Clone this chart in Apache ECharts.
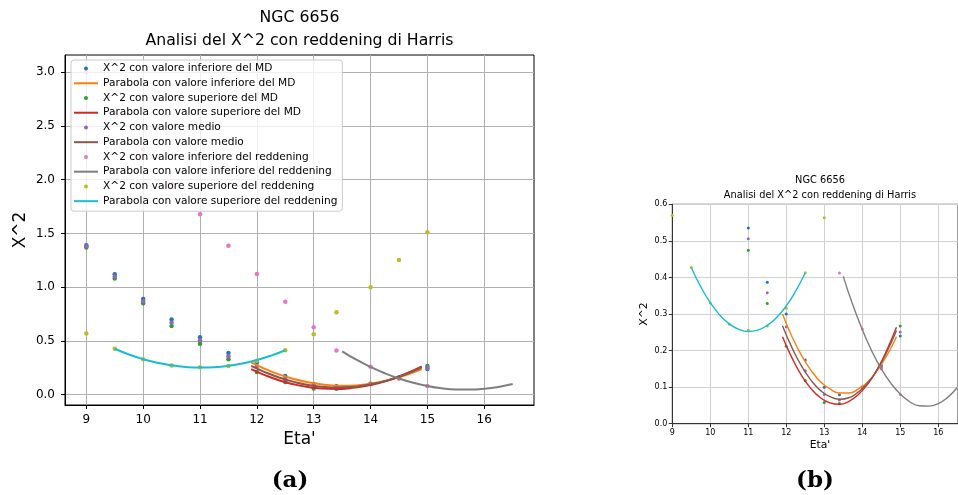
<!DOCTYPE html>
<html><head><meta charset="utf-8">
<script src="https://cdn.jsdelivr.net/npm/echarts@6/dist/echarts.min.js"></script>
<style>html,body{margin:0;padding:0;background:#fff}#c{width:958px;height:495px}</style>
</head><body><div id="c"></div>
<script>
// ---- data ----
const etaPoints = [9, 9.5, 10, 10.5, 11, 11.5, 12, 12.5, 13, 13.4, 14, 14.5, 15];
const chiInfMD  = [1.39, 1.12, 0.89, 0.70, 0.535, 0.387, 0.300, 0.174, 0.100, 0.079, 0.101, 0.160, 0.240];
const chiSupMD  = [1.37, 1.08, 0.85, 0.64, 0.474, 0.329, 0.212, 0.118, 0.058, 0.055, 0.100, 0.152, 0.267];
const chiMedio  = [1.38, 1.10, 0.87, 0.67, 0.506, 0.358, 0.265, 0.145, 0.080, 0.065, 0.100, 0.156, 0.251];
const chiInfRed = [3.00, 2.62, 2.28, 1.96, 1.678, 1.386, 1.123, 0.865, 0.627, 0.412, 0.259, 0.150, 0.080];
const chiSupRed = [0.570, 0.427, 0.330, 0.272, 0.256, 0.267, 0.316, 0.413, 0.563, 0.766, 0.999, 1.253, 1.51];

const parabXMD    = [11.9, 12.15, 12.4, 12.65, 12.9, 13.15, 13.4, 13.65, 13.9, 14.15, 14.4, 14.65, 14.9];
const parabInfMD  = [0.300, 0.238, 0.187, 0.146, 0.115, 0.095, 0.084, 0.084, 0.095, 0.115, 0.146, 0.187, 0.238];
const parabSupMD  = [0.238, 0.180, 0.132, 0.096, 0.071, 0.057, 0.053, 0.061, 0.080, 0.109, 0.150, 0.202, 0.264];
const parabMedio  = [0.268, 0.208, 0.158, 0.119, 0.091, 0.074, 0.067, 0.071, 0.087, 0.112, 0.149, 0.197, 0.255];
const parabXInfRed = [13.5, 13.75, 14, 14.25, 14.5, 14.75, 15, 15.25, 15.5, 15.75, 16, 16.25, 16.5];
const parabInfRed  = [0.403, 0.325, 0.258, 0.199, 0.150, 0.111, 0.081, 0.060, 0.049, 0.048, 0.055, 0.072, 0.099];
const parabXSupRed = [9.5, 9.75, 10, 10.25, 10.5, 10.75, 11, 11.25, 11.5, 11.75, 12, 12.25, 12.5];
const parabSupRed  = [0.427, 0.374, 0.331, 0.297, 0.273, 0.258, 0.252, 0.256, 0.269, 0.291, 0.322, 0.363, 0.413];

const xTicksA = [9, 10, 11, 12, 13, 14, 15, 16];
const yTicksA = [0, 0.5, 1.0, 1.5, 2.0, 2.5, 3.0];
const xTicksB = [9, 10, 11, 12, 13, 14, 15, 16];
const yTicksB = [0, 0.1, 0.2, 0.3, 0.4, 0.5, 0.6];

const names = [
  'X^2 con valore inferiore del MD',
  'Parabola con valore inferiore del MD',
  'X^2 con valore superiore del MD',
  'Parabola con valore superiore del MD',
  'X^2 con valore medio',
  'Parabola con valore medio',
  'X^2 con valore inferiore del reddening',
  'Parabola con valore inferiore del reddening',
  'X^2 con valore superiore del reddening',
  'Parabola con valore superiore del reddening'
];
const colors = ['#1f77b4','#ff7f0e','#2ca02c','#d62728','#9467bd','#8c564b','#e377c2','#7f7f7f','#bcbd22','#17becf'];

const FONT = 'DejaVu Sans';

function scatter(idx, ys, gi, size) {
  return { name: names[idx], type: 'scatter', xAxisIndex: gi, yAxisIndex: gi,
    data: etaPoints.map((x, i) => [x, ys[i]]), symbol: 'circle', symbolSize: size,
    itemStyle: { color: colors[idx], opacity: 1 }, clip: true, silent: true };
}
function curve(idx, xs, ys, gi, w) {
  return { name: names[idx], type: 'line', xAxisIndex: gi, yAxisIndex: gi,
    data: xs.map((x, i) => [x, ys[i]]), symbol: 'none', showSymbol: false, smooth: true,
    lineStyle: { color: colors[idx], width: w }, itemStyle: { color: colors[idx] }, clip: true, silent: true };
}
function seriesFor(gi, ps, lw) {
  return [
    scatter(0, chiInfMD, gi, ps),
    curve(1, parabXMD, parabInfMD, gi, lw),
    scatter(2, chiSupMD, gi, ps),
    curve(3, parabXMD, parabSupMD, gi, lw),
    scatter(4, chiMedio, gi, ps),
    curve(5, parabXMD, parabMedio, gi, lw),
    scatter(6, chiInfRed, gi, ps),
    curve(7, parabXInfRed, parabInfRed, gi, lw),
    scatter(8, chiSupRed, gi, ps),
    curve(9, parabXSupRed, parabSupRed, gi, lw)
  ];
}
function fmt1(v) { return Number(v).toFixed(1); }

function xAxisCfg(gi, min, max, ticks, o) {
  return { type: 'value', gridIndex: gi, min: min, max: max,
    axisLine: { show: true, onZero: false, lineStyle: { color: o.axisColor, width: 1 } },
    axisTick: { show: true, inside: false, length: o.tickLen, lineStyle: { color: o.axisColor }, customValues: ticks },
    axisLabel: { customValues: ticks, fontSize: o.fs, color: '#000', fontFamily: FONT, margin: o.xMargin },
    splitLine: { show: true, lineStyle: { color: o.gridColor, width: 1 } },
    name: "Eta'", nameLocation: 'middle', nameGap: o.nameGap,
    nameTextStyle: { fontSize: o.nameFs, fontFamily: FONT, color: '#000' } };
}
function yAxisCfg(gi, min, max, ticks, o) {
  return { type: 'value', gridIndex: gi, min: min, max: max,
    axisLine: { show: true, onZero: false, lineStyle: { color: o.axisColor, width: 1 } },
    axisTick: { show: true, inside: false, length: o.tickLen, lineStyle: { color: o.axisColor }, customValues: ticks },
    axisLabel: { customValues: ticks, fontSize: o.fs, color: '#000', fontFamily: FONT, margin: o.yMargin, formatter: fmt1 },
    splitLine: { show: true, lineStyle: { color: o.gridColor, width: 1 } },
    name: 'X^2', nameLocation: 'middle', nameGap: o.nameGap, nameRotate: 90,
    nameTextStyle: { fontSize: o.nameFs, fontFamily: FONT, color: '#000' } };
}

const optA = { axisColor: '#000', tickLen: 4, fs: 12, xMargin: 9, yMargin: 10, gridColor: '#b0b0b0', nameFs: 17 };
const optB = { axisColor: '#333', tickLen: 3.5, fs: 8, xMargin: 5, yMargin: 5, gridColor: '#d0d0d0', nameFs: 10.8 };

function txt(x, y, text, size) {
  return { type: 'text', x: x, y: y, silent: true,
    style: { text: text, fontSize: size, fontFamily: FONT, fill: '#000', align: 'center', verticalAlign: 'middle',
      textAlign: 'center', textVerticalAlign: 'middle' } };
}

const lineIcon = 'path://M0,0 L24,0 L24,2 L0,2 Z';
const legendData = names.map((n, i) => (i % 2 === 1) ? { name: n, icon: lineIcon } : { name: n, icon: 'circle' });

const option = {
  animation: false,
  backgroundColor: '#fff',
  grid: [
    { left: 65, top: 55, width: 469, height: 350, show: true, borderColor: '#000', borderWidth: 1, backgroundColor: 'transparent' },
    { left: 672.3, top: 204.3, right: 0, height: 219.4, show: true, borderColor: '#333', borderWidth: 1, backgroundColor: 'transparent' }
  ],
  xAxis: [
    xAxisCfg(0, 8.625, 16.875, xTicksA, Object.assign({ nameGap: 23 }, optA)),
    xAxisCfg(1, 9, 16.52, xTicksB, Object.assign({ nameGap: 15 }, optB))
  ],
  yAxis: [
    yAxisCfg(0, -0.096, 3.16, yTicksA, Object.assign({ nameGap: 36 }, optA)),
    yAxisCfg(1, 0, 0.6, yTicksB, Object.assign({ nameGap: 23 }, optB))
  ],
  legend: {
    orient: 'vertical', left: 71, top: 60, itemWidth: 24, itemHeight: 4, itemGap: 2.74,
    padding: [2.5, 5, 4, 3], backgroundColor: 'rgba(255,255,255,0.8)', borderColor: '#cccccc',
    borderWidth: 1, borderRadius: 3, selectedMode: false, symbolKeepAspect: true,
    textStyle: { fontFamily: FONT, fontSize: 10.6, color: '#000', lineHeight: 12 },
    data: legendData
  },
  graphic: [
    txt(299.5, 18.2, 'NGC 6656', 15.7),
    txt(299.5, 40.5, 'Analisi del X^2 con reddening di Harris', 15.7),
    txt(820, 180, 'NGC 6656', 9.8),
    txt(820, 195.5, 'Analisi del X^2 con reddening di Harris', 9.8),
    txt(820, 445.5, "Eta'", 10.8),
    { type: 'text', x: 290, y: 481, silent: true,
      style: { text: '(a)', fontSize: 23, fontWeight: 'bold', fontFamily: 'DejaVu Serif', fill: '#000',
        align: 'center', verticalAlign: 'middle', textAlign: 'center', textVerticalAlign: 'middle' } },
    { type: 'text', x: 815, y: 481, silent: true,
      style: { text: '(b)', fontSize: 23, fontWeight: 'bold', fontFamily: 'DejaVu Serif', fill: '#000',
        align: 'center', verticalAlign: 'middle', textAlign: 'center', textVerticalAlign: 'middle' } }
  ],
  series: seriesFor(0, 4.5, 2).concat(seriesFor(1, 3, 1.4))
};
// the (b) x-axis title is centred on the original (wider) axes, as in the reference
option.xAxis[1].name = '';

const chart = echarts.init(document.getElementById('c'), null, { renderer: 'canvas' });
chart.setOption(option);
</script>
</body></html>
